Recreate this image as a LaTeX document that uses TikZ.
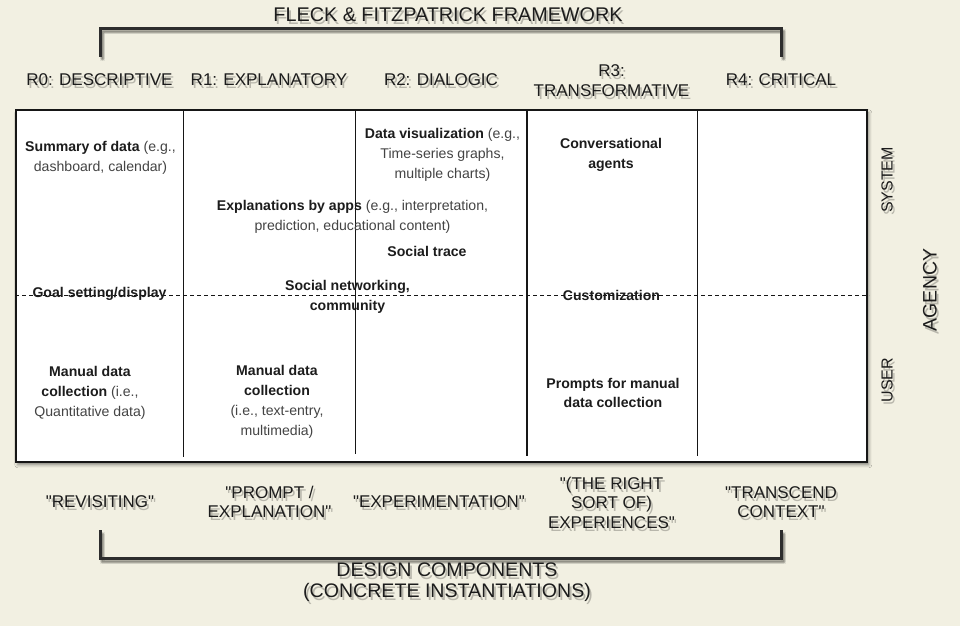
\documentclass[tikz,border=0pt]{standalone}
\usepackage{fontspec}
\setmainfont{Liberation Sans}[Ligatures=TeXOff]
\usetikzlibrary{shadows.blur}

\definecolor{paper}{RGB}{242,240,226}
\definecolor{ink}{RGB}{28,28,28}
\definecolor{softink}{RGB}{68,68,68}
\definecolor{rulecol}{RGB}{22,22,22}
\definecolor{bracketcol}{RGB}{45,45,45}

\tikzset{
  hdr/.style={font=\fontsize{17}{19.5}\selectfont, text=ink, align=center, inner sep=0pt},
  bigtitle/.style={hdr, font=\fontsize{19.8}{21}\selectfont},
  captionlbl/.style={hdr, font=\fontsize{19.6}{21}\selectfont},
  sidelbl/.style={hdr, rotate=90, font=\fontsize{16}{19}\selectfont},
  agencylbl/.style={hdr, rotate=90, font=\fontsize{19.5}{22}\selectfont},
  cell/.style={font=\fontsize{14.1}{19.8}\selectfont, text=ink, align=center, inner sep=0pt},
  frame/.style={draw=rulecol, line width=1.6pt, fill=white, inner sep=0pt,
    blur shadow={shadow xshift=2pt, shadow yshift=-3pt, shadow blur radius=3pt, shadow opacity=45}},
  divider/.style={draw=rulecol, line width=1pt},
  thickdivider/.style={draw=rulecol, line width=2pt},
  agencysplit/.style={draw=rulecol, line width=0.9pt, dash pattern=on 4pt off 3pt},
  bracket/.style={draw=bracketcol, line width=3pt},
}

% regular-weight, lighter part of a cell text
\newcommand\lite[1]{{\color{softink}#1}}

% label on the paper with a drop shadow: [style]{name}{x,y}{text}
\newcommand\castnode[4][hdr]{%
  \node[#1, text=black, text opacity=0.24] at ([shift={(2,3)}]#3) {#4};%
  \node[#1] (#2) at (#3) {#4};}

% bracket with a soft drop shadow: {x1}{x2}{y end}{y bar}
\newcommand\castbracket[4]{%
  \foreach \sx/\sy/\so in {2/3/0.18, 1/2/0.07, 3/2/0.07, 1/4/0.07, 3/4/0.07}{%
    \draw[bracket, draw=black, draw opacity=\so, shift={(\sx,\sy)}]
      (#1,#3) -- (#1,#4) -- (#2,#4) -- (#2,#3);}%
  \draw[bracket] (#1,#3) -- (#1,#4) -- (#2,#4) -- (#2,#3);}

\begin{document}
\begin{tikzpicture}[x=1pt, y=-1pt]
  \fill[paper] (0,0) rectangle (960,626);
  \useasboundingbox (0,0) rectangle (960,626);

  % framework title and its bracket
  \castnode[bigtitle]{title}{448,15}{FLECK \& FITZPATRICK FRAMEWORK}
  \castbracket{100}{781}{57}{29}

  % reflection levels
  \castnode{r0}{99.5,80}{R0: DESCRIPTIVE}
  \castnode{r1}{269,80}{R1: EXPLANATORY}
  \castnode{r2}{441,80}{R2: DIALOGIC}
  \castnode{r3}{611.5,80.5}{R3:\\TRANSFORMATIVE}
  \castnode{r4}{781,80}{R4: CRITICAL}

  % the grid
  \node[frame, minimum width=851pt, minimum height=352pt, anchor=north west] (tbl) at (15,109) {};
  \draw[divider] (183,109) -- (183,457);
  \draw[divider] (355,109) -- (355,454);
  \draw[thickdivider] (527,109) -- (527,456);
  \draw[divider] (697,109) -- (697,456);
  \draw[agencysplit] (15,295) -- (869,295);

  % design components in the grid
  \node[cell] (summary) at (100.5,157.5) {\textbf{Summary of data} \lite{(e.g.,}\\\lite{dashboard, calendar)}};
  \node[cell] (datavis) at (442.5,155) {\textbf{Data visualization} \lite{(e.g.,}\\\lite{Time-series graphs,}\\\lite{multiple charts)}};
  \node[cell] (conv) at (611,155) {\textbf{Conversational}\\\textbf{agents}};
  \node[cell] (explain) at (352.5,216.5) {\textbf{Explanations by apps} \lite{(e.g., interpretation,}\\\lite{prediction, educational content)}};
  \node[cell] (trace) at (427,251) {\textbf{Social trace}};
  \node[cell] (social) at (347.5,297) {\textbf{Social networking,}\\\textbf{community}};
  \node[cell] (goal) at (99.5,294) {\textbf{Goal setting/display}};
  \node[cell] (custom) at (611.5,295) {\textbf{Customization}};
  \node[cell] (manual0) at (90,393) {\textbf{Manual data}\\\textbf{collection} \lite{(i.e.,}\\\lite{Quantitative data)}};
  \node[cell] (manual1) at (277,402) {\textbf{Manual data}\\\textbf{collection}\\\lite{(i.e., text-entry,}\\\lite{multimedia)}};
  \node[cell] (prompts) at (613,393) {\textbf{Prompts for manual}\\\textbf{data collection}};

  % agency axis
  \castnode[sidelbl]{system}{887,180}{SYSTEM}
  \castnode[sidelbl]{user}{887,380}{USER}
  \castnode[agencylbl]{agency}{930,290}{AGENCY}

  % design goals per level
  \castnode{g0}{100,502}{"REVISITING"}
  \castnode{g1}{269.5,502}{"PROMPT /\\EXPLANATION"}
  \castnode{g2}{439,502}{"EXPERIMENTATION"}
  \castnode{g3}{611.5,502.5}{"(THE RIGHT\\SORT OF)\\EXPERIENCES"}
  \castnode{g4}{781,502}{"TRANSCEND\\CONTEXT"}

  % design components bracket and caption
  \castbracket{100}{781}{530}{558}
  \castnode[captionlbl]{caption}{447,582.5}{DESIGN COMPONENTS\\(CONCRETE INSTANTIATIONS)}
\end{tikzpicture}
\end{document}
